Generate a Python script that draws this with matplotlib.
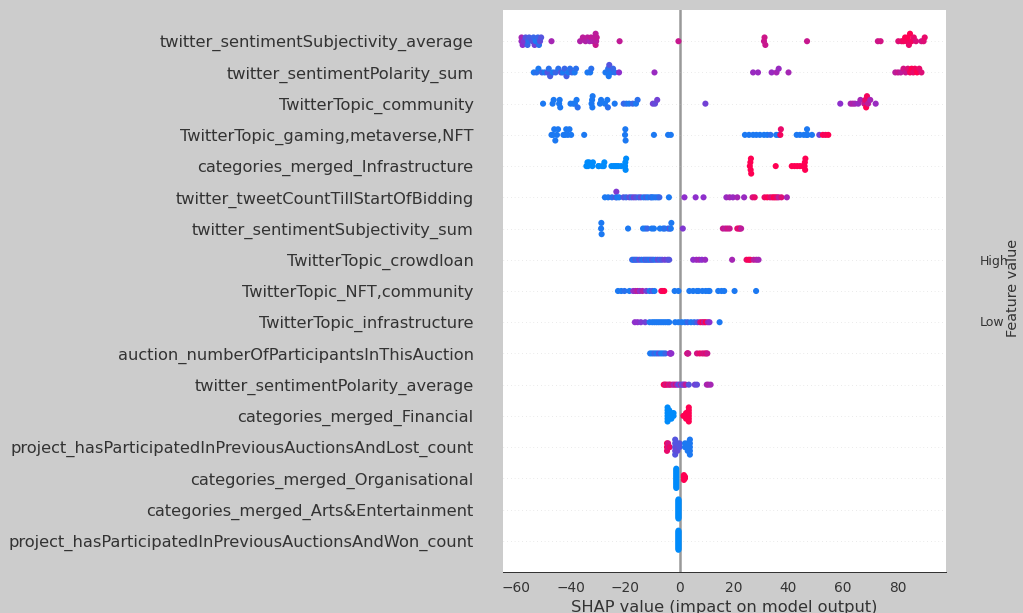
import matplotlib.pyplot as plt
import numpy as np
from matplotlib.colors import LinearSegmentedColormap

# feature names, top to bottom
features = [
    "twitter_sentimentSubjectivity_average",
    "twitter_sentimentPolarity_sum",
    "TwitterTopic_community",
    "TwitterTopic_gaming,metaverse,NFT",
    "categories_merged_Infrastructure",
    "twitter_tweetCountTillStartOfBidding",
    "twitter_sentimentSubjectivity_sum",
    "TwitterTopic_crowdloan",
    "TwitterTopic_NFT,community",
    "TwitterTopic_infrastructure",
    "auction_numberOfParticipantsInThisAuction",
    "twitter_sentimentPolarity_average",
    "categories_merged_Financial",
    "project_hasParticipatedInPreviousAuctionsAndLost_count",
    "categories_merged_Organisational",
    "categories_merged_Arts&Entertainment",
    "project_hasParticipatedInPreviousAuctionsAndWon_count",
]

# (shap value, normalised feature value)
subj_avg = [(-58.0, .55), (-58.0, .6), (-57.6, .5), (-57.2, .45), (-56.5, .3), (-55.8, .2),
            (-55.5, .15), (-55.2, .25), (-54.0, .3), (-53.6, .2), (-53.2, .4), (-52.8, .1),
            (-52.0, .2), (-51.6, .15), (-51.2, .35), (-50.8, .3), (-47.0, .6),
            (-36.5, .65), (-35.5, .7), (-34.5, .65), (-33.8, .7), (-33.0, .6), (-32.5, .72),
            (-31.8, .65), (-31.2, .7), (-30.8, .75), (-30.8, .7), (-30.6, .68), (-30.4, .72),
            (-22.0, .72), (-0.4, .75), (31.0, .75), (31.2, .78), (31.5, .75), (46.8, .75),
            (72.8, .78), (73.8, .8), (80.3, .85), (81.5, .9), (82.2, .95), (82.8, 1.0),
            (83.4, .95), (83.8, 1.0), (84.2, .9), (84.6, 1.0), (85.2, .95), (86.0, .9),
            (86.8, .85), (88.8, .8), (89.6, .85), (90.0, .9)]
polarity_sum = [(-53.5, .1), (-52.5, .15), (-51.8, .1), (-50.5, .2), (-49.5, .1), (-48.5, .3),
                (-48.0, .15), (-47.5, .25), (-46.5, .1), (-45.5, .2), (-44.5, .15), (-43.5, .3),
                (-42.8, .1), (-42.2, .2), (-41.5, .25), (-40.8, .1), (-40.2, .15), (-39.5, .2),
                (-38.5, .1), (-38.0, .15), (-33.8, .1), (-32.8, .1), (-32.4, .15),
                (-27.2, .1), (-26.4, .1), (-26.2, .15), (-26.0, .1), (-25.8, .3), (-25.2, .1),
                (-24.4, .2), (-23.8, .15), (-22.2, .5), (-9.2, .55),
                (27.0, .55), (28.8, .55), (33.8, .55), (35.6, .6), (36.4, .55), (40.0, .6),
                (79.2, .7), (80.2, .75), (81.2, .7), (82.2, .8), (83.0, .75), (83.8, .85),
                (84.6, .95), (85.2, 1.0), (85.8, .9), (86.4, .95), (87.2, 1.0), (88.0, .9),
                (88.8, .85)]
topic_community = [(-50.1, .1), (-46.6, .1), (-46.2, .1), (-44.2, .1), (-44.0, .1), (-43.8, .1),
                   (-40.0, .1), (-39.0, .1), (-38.4, .1), (-37.8, .1), (-37.4, .15), (-32.3, .1),
                   (-32.1, .1), (-32.0, .1), (-31.9, .1), (-29.2, .1), (-28.8, .1), (-27.4, .1),
                   (-26.5, .1), (-26.3, .15), (-23.8, .1), (-20.5, .2), (-19.5, .15),
                   (-18.5, .1), (-17.2, .2), (-16.0, .1), (-15.4, .15), (-9.8, .4), (-9.0, .35),
                   (-8.2, .4), (9.5, .4), (59.0, .5), (62.8, .6), (63.6, .65), (64.4, .6),
                   (65.6, .55), (66.4, .6), (67.8, .75), (68.2, .9), (68.5, 1.0), (68.8, .95),
                   (69.2, .7), (70.0, .6), (72.0, .55)]
topic_gaming = [(-47.0, .1), (-46.4, .1), (-46.0, .1), (-45.6, .1), (-45.0, .1), (-44.6, .1),
                (-42.6, .1), (-42.0, .1), (-41.6, .1), (-41.0, .1), (-40.4, .1), (-39.8, .1),
                (-35.0, .1), (-20.0, .1), (-19.9, .1), (-19.8, .1), (-9.4, .1), (-4.2, .1),
                (-3.2, .1), (24.0, .1), (25.5, .1), (27.0, .1), (28.2, .1), (29.5, .1),
                (31.0, .1), (32.2, .1), (33.4, .15), (35.5, .1), (36.4, .1), (37.0, .95),
                (37.2, .9), (43.0, .1), (44.2, .1), (45.6, .1), (46.6, .1), (46.8, .1),
                (47.0, .1), (48.6, .1), (51.3, .4), (52.6, 1.0), (53.6, .95), (54.6, 1.0)]
cat_infra = [(-34.2, 0), (-33.8, 0), (-33.6, 0), (-33.2, 0), (-32.0, 0), (-31.8, 0), (-29.8, 0),
             (-29.6, 0), (-28.4, 0), (-27.8, 0), (-27.6, 0), (-25.0, 0), (-24.2, 0), (-23.6, 0),
             (-23.0, 0), (-22.4, 0), (-21.4, 0), (-20.2, 0), (-20.0, 0), (-19.9, 0), (-19.8, 0),
             (-19.6, 0), (25.8, 1), (26.0, 1), (26.1, 1), (26.2, 1), (26.3, 1), (35.3, 1),
             (41.2, 1), (42.2, 1), (43.2, 1), (44.2, 1), (45.2, 1), (45.9, 1), (46.0, 1),
             (46.1, 1), (46.2, 1)]
tweet_count = [(-27.4, .1), (-26.2, .1), (-24.8, .15), (-23.4, .3), (-23.2, .45), (-23.0, .1),
               (-22.2, .1), (-20.6, .3), (-19.6, .2), (-18.4, .35), (-17.6, .2), (-16.8, .4),
               (-16.0, .3), (-15.0, .2), (-14.2, .35), (-13.2, .1), (-12.4, .25), (-11.6, .1),
               (-10.6, .2), (-10.2, .15), (-9.6, .1), (-8.8, .15), (-8.0, .1), (-7.4, .2),
               (-3.9, .1), (1.8, .5), (5.9, .5), (8.8, .5), (17.2, .55), (18.4, .6),
               (19.6, .55), (21.2, .6), (23.7, .55), (26.8, .8), (27.6, .9), (31.2, .9),
               (32.2, 1.0), (33.2, .9), (34.0, .85), (34.6, 1.0), (35.2, .95), (35.8, .9),
               (36.4, .7), (37.4, .85), (39.4, .6)]
subj_sum = [(-28.8, .1), (-28.7, .1), (-28.6, .1), (-18.9, .1), (-13.4, .1), (-12.6, .1),
            (-11.8, .2), (-10.2, .1), (-9.4, .1), (-7.2, .1), (-6.0, .1), (-5.4, .15),
            (-4.2, .1), (-3.6, .35), (-3.2, .1), (-3.0, .1), (1.2, .45), (15.9, .75),
            (16.8, .7), (17.6, .8), (18.4, .75), (21.2, .9), (21.8, .8), (22.2, .95), (22.6, .7)]
topic_crowdloan = [(-17.4, .2), (-16.8, .1), (-16.2, .3), (-15.6, .15), (-14.8, .35), (-14.0, .2),
                   (-13.2, .1), (-12.6, .3), (-12.0, .15), (-11.4, .25), (-10.8, .1), (-10.2, .3),
                   (-9.6, .2), (-8.8, .15), (-8.0, .35), (-7.2, .2), (-6.4, .3), (-5.4, .4),
                   (-4.4, .35), (-3.8, .3), (5.0, .5), (6.2, .55), (7.2, .6), (8.2, .5),
                   (9.4, .55), (19.3, .6), (24.6, .9), (25.4, 1.0), (26.0, .95), (27.2, .7),
                   (28.2, .65), (29.0, .6)]
topic_nft_comm = [(-22.6, .1), (-21.4, .1), (-20.2, .15), (-18.4, .1), (-17.0, .5), (-16.2, .6),
                  (-15.4, .7), (-14.6, .5), (-13.6, .65), (-12.2, .4), (-11.0, .1), (-10.0, .3),
                  (-9.2, .1), (-6.7, 1.0), (-6.2, .95), (-5.6, 1.0), (-1.8, .1), (-0.4, .1),
                  (3.6, .1), (5.0, .1), (6.4, .1), (7.0, .1), (8.4, .1), (9.6, .1), (10.6, .1),
                  (11.0, .1), (14.2, .1), (15.4, .1), (16.4, .1), (20.2, .1), (28.1, .1)]
topic_infra = [(-16.4, .5), (-15.4, .5), (-14.2, .45), (-12.6, .4), (-11.0, .1), (-10.0, .1),
               (-9.2, .1), (-8.4, .1), (-7.6, .1), (-6.8, .1), (-6.0, .1), (-5.2, .1),
               (-4.4, .1), (-3.8, .1), (-1.6, .1), (-0.4, .1), (0.8, .1), (2.0, .1), (3.0, .2),
               (4.2, .1), (5.4, .15), (6.6, .3), (7.6, .8), (8.4, .95), (9.0, .7), (9.6, 1.0),
               (10.4, .6), (11.0, .5), (14.7, .1)]
participants = [(-10.8, .1), (-10.0, .1), (-9.2, .2), (-8.4, .1), (-7.6, .3), (-6.8, .1),
                (-6.0, .1), (-5.2, .2), (-3.6, .55), (-3.4, .5), (-3.2, .55), (-3.0, .5),
                (2.8, .8), (3.0, .85), (3.2, .75), (6.4, .8), (7.4, .9), (8.4, .85), (9.2, .8),
                (9.8, .9), (10.2, .75)]
polarity_avg = [(-5.8, 1.0), (-5.4, .9), (-5.0, .8), (-4.4, .95), (-3.8, .7), (-3.4, .85),
                (-2.6, .75), (-2.0, .6), (-1.4, .8), (-0.8, .5), (-0.2, .3), (0.4, .6),
                (1.0, .2), (1.4, .5), (1.8, .4), (2.2, .7), (3.4, .3), (5.6, .4), (6.4, .35),
                (10.0, .6), (10.6, .65), (11.4, .6)]
cat_financial = [(-4.4, 0), (-4.4, 0), (-4.4, 0), (-4.4, 0), (-4.4, 0), (-4.4, 0),
                 (-3.8, 0), (-3.8, 0), (-3.8, 0), (-3.8, 0), (-3.0, 0), (-3.0, 0), (-3.0, 0),
                 (-2.2, 0), (-2.2, 0), (1.4, 1), (2.4, 1), (2.4, 1), (2.4, 1),
                 (3.4, 1), (3.4, 1), (3.4, 1), (3.4, 1), (3.4, 1), (3.4, 1)]
lost_count = [(-4.6, 1.0), (-4.6, 1.0), (-4.6, .9), (-4.2, .8), (-4.2, .8), (-3.6, .9),
              (-1.6, .3), (-1.6, .3), (-1.6, .35), (-1.6, .3), (-1.6, .3), (-0.8, .35),
              (-0.8, .3), (-0.8, .35), (0.0, .3), (0.0, .3), (2.0, .1), (2.0, .1),
              (3.0, .1), (3.0, .1), (3.0, .1), (3.8, .1), (3.8, .1), (3.8, .1), (3.8, .1),
              (3.8, .1)]
cat_organisational = [(-1.2, 0), (-1.2, 0), (-1.2, 0), (-1.2, 0), (-1.2, 0), (-1.2, 0),
                      (-1.2, 0), (-1.2, 0), (-1.2, 0), (-1.2, 0), (-1.2, 0), (-1.2, 0),
                      (-1.2, 0), (1.6, 1), (1.6, 1), (1.6, 1), (1.6, 1), (2.0, 1), (2.0, 1)]
cat_arts = [(-0.4, 0), (-0.4, 0), (-0.4, 0), (-0.4, 0), (-0.4, 0), (-0.4, 0), (-0.4, 0),
            (-0.4, 0), (-0.4, 0), (-0.4, 0), (-0.4, 0), (-0.4, 0), (-0.4, 0), (-0.4, 0),
            (-0.4, 0), (-0.4, 0), (-0.4, 0), (-0.4, 0)]
won_count = [(-0.4, 0), (-0.4, 0), (-0.4, 0), (-0.4, 0), (-0.4, 0), (-0.4, 0), (-0.4, 0),
             (-0.4, 0), (-0.4, 0), (-0.4, 0), (-0.4, 0), (-0.4, 0), (-0.4, 0), (-0.4, 0),
             (-0.4, 0), (-0.4, 0), (-0.4, 0), (-0.4, 0)]

rows = [subj_avg, polarity_sum, topic_community, topic_gaming, cat_infra, tweet_count,
        subj_sum, topic_crowdloan, topic_nft_comm, topic_infra, participants, polarity_avg,
        cat_financial, lost_count, cat_organisational, cat_arts, won_count]

axis_color = "#333333"
red_blue = LinearSegmentedColormap.from_list(
    "red_blue", ["#008bfb", "#8e2fcc", "#ff0052"])


def swarm(shaps, row_height=0.4, nbins=100):
    # same stacking as the shap beeswarm, without the random tie-break
    shaps = np.asarray(shaps, float)
    span = shaps.max() - shaps.min()
    quant = np.round(nbins * (shaps - shaps.min()) / (span + 1e-8))
    order = np.argsort(quant, kind="stable")
    ys = np.zeros(len(shaps))
    layer, last = 0, None
    for i in order:
        if quant[i] != last:
            layer = 0
        ys[i] = np.ceil(layer / 2) * ((layer % 2) * 2 - 1)
        layer += 1
        last = quant[i]
    ys *= 0.9 * (row_height / np.max(ys + 1))
    return ys


fig = plt.figure(figsize=(1023 / 90, 613 / 90), dpi=90, facecolor="#cccccc")
ax = fig.add_axes([0.4917, 0.0669, 0.433, 0.9168])
ax.set_facecolor("white")

n = len(features)
ax.axvline(0, color="#999999", lw=2, zorder=-1)
for idx, pts in enumerate(rows):
    pos = n - 1 - idx
    ax.axhline(pos, color="#cccccc", lw=0.5, dashes=(1, 5), zorder=-1)
    vals = np.array([p[0] for p in pts])
    fvals = np.array([p[1] for p in pts])
    ax.scatter(vals, pos + swarm(vals), c=fvals, cmap=red_blue, vmin=0, vmax=1,
               s=24, linewidth=0, zorder=3)

ax.set_xlim(-64.8, 97.8)
ax.set_ylim(-1, n)
ax.set_yticks(range(n))
ax.set_yticklabels(features[::-1], fontsize=13)
for s in ["top", "right", "left"]:
    ax.spines[s].set_visible(False)
ax.spines["bottom"].set_color(axis_color)
ax.tick_params(color=(0, 0, 0, 0), labelcolor=axis_color)
ax.tick_params("y", length=20, width=0.5)
ax.tick_params("x", labelsize=11)
ax.set_xlabel("SHAP value (impact on model output)", fontsize=13, color=axis_color)

# colour bar labels (the bar itself is not drawn in the reference)
fig.text(0.958, 0.5726, "High", fontsize=10, color=axis_color, va="center")
fig.text(0.958, 0.4747, "Low", fontsize=10, color=axis_color, va="center")
fig.text(0.9905, 0.530, "Feature value", fontsize=11.5, color=axis_color,
         rotation=90, ha="center", va="center")

fig.savefig("out.png", dpi=90, facecolor=fig.get_facecolor())
